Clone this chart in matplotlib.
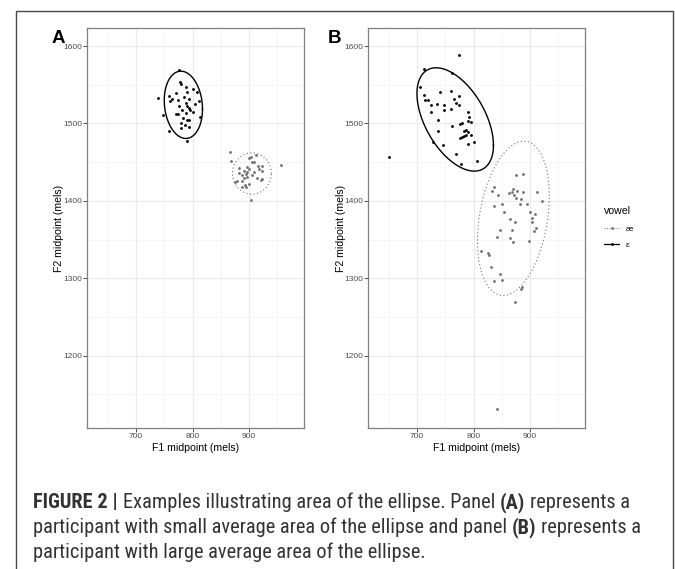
import numpy as np
import matplotlib
matplotlib.use("Agg")
import matplotlib.pyplot as plt
from matplotlib.lines import Line2D
from matplotlib.patches import Rectangle
from matplotlib import font_manager

# ---------------- data ----------------
# Panel A
a_eps_x = [776.5, 777.6, 779, 788, 800, 807.6, 770.6, 791, 738.8, 757.6, 763.5, 761,
           785, 794, 811.8, 773.5, 788, 804, 791, 776.5, 782, 796, 794, 770.6, 775,
           748, 813, 788, 783.5, 791, 793, 779, 785.9, 794, 779, 757.6, 790, 800]
a_eps_y = [1569, 1553.9, 1551, 1547, 1544, 1540.5, 1539.7, 1541, 1533, 1535, 1532, 1528.4,
           1533.6, 1532, 1529, 1530, 1527, 1525, 1523, 1522, 1518, 1518, 1520, 1511.6, 1512,
           1511, 1508.6, 1514, 1506.5, 1504, 1505, 1501, 1497.4, 1495.7, 1493.5, 1490.5, 1476.7, 1515]
a_ae_x = [866.5, 868.8, 900, 903, 913, 904.7, 908.8, 882.4, 897, 915, 922, 899, 897, 891,
          894, 881.8, 909.4, 917.6, 923.5, 905.9, 888, 897, 891.8, 914, 923.5, 920.6, 879.4,
          888, 900, 893, 887, 895.3, 957, 903, 875]
a_ae_y = [1462.5, 1451.7, 1456, 1457, 1459.5, 1450.4, 1450.4, 1442.7, 1443.5, 1445.3, 1444.8,
          1440.5, 1437.5, 1438.8, 1435.3, 1436.2, 1437.5, 1440.5, 1438.4, 1433, 1433, 1431, 1430,
          1429, 1428, 1426.7, 1425.9, 1425.9, 1421.6, 1420, 1418, 1418, 1446.6, 1401.7, 1424.7]

# Panel B
b_eps_x = [650.6, 704.7, 712.9, 773.5, 761.8, 711.8, 714.7, 718.8, 725.3, 725.3, 741, 760,
           735.9, 747.6, 748.2, 760, 764.7, 768.2, 773.5, 774.7, 791, 792, 737, 736.5, 761.8,
           776.5, 779, 789.4, 795, 786.5, 789.4, 784, 775.9, 779.4, 784, 785.9, 795, 789.4,
           801, 727.6, 745.3, 769.4, 777.6, 805.9]
b_eps_y = [1456.5, 1547.4, 1571, 1588.4, 1564.7, 1536.6, 1530, 1530, 1523.3, 1515, 1541, 1542,
           1525, 1524, 1518, 1519, 1531.5, 1526.7, 1535, 1524, 1514.7, 1507.8, 1504, 1490, 1496.6,
           1499, 1501, 1503, 1501.7, 1491.4, 1488.4, 1489.7, 1481, 1482, 1483.6, 1485, 1485.3, 1474,
           1476.3, 1475.4, 1472.8, 1460, 1447.4, 1452]
b_ae_x = [874.7, 887, 836.5, 832.4, 870.6, 868.2, 877.6, 888.2, 863.5, 871.8, 844, 913, 874.7,
          884, 920.6, 851, 882.4, 895.3, 837, 853, 900.6, 909.4, 865.3, 903.5, 873, 903, 911.2,
          906, 847, 868.2, 841, 864.7, 869.4, 898.2, 813, 825.3, 827, 831.3, 845.9, 835.9, 851,
          885.3, 883.5, 872.4, 842]
b_ae_y = [1432.8, 1435, 1417.7, 1412.5, 1415.5, 1412, 1413, 1412, 1410, 1407.8, 1407.3, 1410.8,
          1404.3, 1402, 1400, 1395.7, 1395.7, 1395.7, 1392.7, 1385, 1385.3, 1383.2, 1376.3, 1377.6,
          1372.4, 1372, 1364.7, 1361.6, 1362, 1362, 1353, 1352.2, 1346.6, 1348.7, 1335.8, 1333.2,
          1330, 1314.2, 1305.2, 1296.6, 1298.3, 1288, 1286, 1269, 1131]

# ellipses: centre x, centre y, half x-extent, half y-extent, cos(phase) = (x at top - cx)/rx
ell_a_eps = [783.8, 1524.1, 33.8, 43.5, -0.13]
ell_a_ae = [905.0, 1435.3, 34.4, 26.7, 0.0]
ell_b_eps = [767.6, 1505.2, 67.6, 66.8, -0.50]
ell_b_ae = [870.5, 1377.3, 63.5, 99.7, 0.29]

x_ticks = [700, 800, 900]
y_ticks = [1200, 1300, 1400, 1500, 1600]
vowel_labels = ["æ", "ɛ"]
panel_labels = ["A", "B"]
x_title = "F1 midpoint (mels)"
y_title = "F2 midpoint (mels)"
caption_lines = [
    [("FIGURE 2 |", "bold"), ("Examples illustrating area of the ellipse. Panel", "normal"),
     ("(A)", "bold"), ("represents a", "normal")],
    [("participant with small average area of the ellipse and panel", "normal"),
     ("(B)", "bold"), ("represents a", "normal")],
    [("participant with large average area of the ellipse.", "normal")],
]

# ---------------- style ----------------
W, H = 675, 569
DPI = 100

installed = {f.name for f in font_manager.fontManager.ttflist}
base_font = [f for f in ["Liberation Sans", "DejaVu Sans"] if f in installed] or ["DejaVu Sans"]
if "DejaVu Sans" not in base_font:
    base_font.append("DejaVu Sans")
narrow_candidates = ["Liberation Sans Narrow", "Arial Narrow", "Roboto Condensed", "Open Sans Condensed"]
narrow = [f for f in narrow_candidates if f in installed]
cap_font = narrow[:1] + base_font
plt.rcParams["font.family"] = base_font

AE_COL = "#737373"
EPS_COL = "#000000"
TICK_COL = "#4D4D4D"

fig = plt.figure(figsize=(W / DPI, H / DPI), dpi=DPI)


def px_rect(l, t, r, b):
    return [l / W, 1 - b / H, (r - l) / W, (b - t) / H]


axA = fig.add_axes(px_rect(87.3, 28.3, 304.0, 428.3))
axB = fig.add_axes(px_rect(368.3, 28.3, 585.0, 428.3))


def ellipse_xy(p):
    cx, cy, rx, ry, c = p
    phi = np.arccos(c)
    t = np.linspace(0, 2 * np.pi, 300)
    return cx + rx * np.cos(t), cy + ry * np.cos(t - phi)


def style_axes(ax):
    ax.set_xlim(614, 997)
    ax.set_ylim(1106, 1623)
    ax.set_xticks(x_ticks)
    ax.set_yticks(y_ticks)
    ax.set_xticks([650, 750, 850, 950], minor=True)
    ax.set_yticks([1150, 1250, 1350, 1450, 1550], minor=True)
    ax.grid(True, which="major", color="#EBEBEB", lw=0.9, zorder=0)
    ax.grid(True, which="minor", color="#F4F4F4", lw=0.6, zorder=0)
    ax.set_axisbelow(True)
    ax.tick_params(which="major", length=2.6, width=0.6, color="#333333", pad=0.9,
                   labelsize=6.0, labelcolor=TICK_COL)
    ax.tick_params(which="minor", length=0)
    for s in ax.spines.values():
        s.set_color("#7F7F7F")
        s.set_linewidth(0.9)
    ax.set_xlabel(x_title, fontsize=7.6, color="#000000")
    ax.set_ylabel(y_title, fontsize=7.6, color="#000000")
    ax.xaxis.set_label_coords(0.5, -(443.0 - 428.3) / 400)
    ax.yaxis.set_label_coords(-(87.3 - 64.5) / 216.7, 0.5)


def draw_panel(ax, ex, ey, ax_, ay_, e_eps, e_ae):
    ax.scatter(ax_, ay_, s=4.2, color=AE_COL, linewidths=0, zorder=3)
    ax.scatter(ex, ey, s=4.2, color=EPS_COL, linewidths=0, zorder=3)
    x, y = ellipse_xy(e_ae)
    ax.plot(x, y, color=AE_COL, lw=0.8, ls=(0, (1, 2.2)), zorder=2)
    x, y = ellipse_xy(e_eps)
    ax.plot(x, y, color=EPS_COL, lw=1.0, ls="-", zorder=2)
    style_axes(ax)


draw_panel(axA, a_eps_x, a_eps_y, a_ae_x, a_ae_y, ell_a_eps, ell_a_ae)
draw_panel(axB, b_eps_x, b_eps_y, b_ae_x, b_ae_y, ell_b_eps, ell_b_ae)

# panel letters
fig.text(51.5 / W, 1 - 42.7 / H, panel_labels[0], fontsize=13.5, fontweight="bold", va="baseline", ha="left")
fig.text(328.0 / W, 1 - 43.0 / H, panel_labels[1], fontsize=13.5, fontweight="bold", va="baseline", ha="left")

# legend
handles = [Line2D([], [], color=AE_COL, ls=(0, (1, 1.5)), lw=0.7, marker="o", ms=2.0, mew=0),
           Line2D([], [], color=EPS_COL, ls="-", lw=0.9, marker="o", ms=2.0, mew=0)]
leg = fig.legend(handles, vowel_labels, title="vowel", loc="upper left",
                 bbox_to_anchor=(604 / W, 1 - 205.5 / H), frameon=False, fontsize=6,
                 title_fontsize=7.6, handlelength=1.8, handletextpad=0.8, labelspacing=0.95,
                 borderpad=0, borderaxespad=0, alignment="left")
leg._legend_box.sep = 7

# outer border
fig.patches.append(Rectangle((16 / W, -0.1), (673.3 - 16) / W, (1 - 10.7 / H) + 0.1,
                             transform=fig.transFigure, fill=False, edgecolor="#4A4A4A",
                             lw=1.0, figure=fig))

# caption with mixed weights, sized so the first line spans the reference width
renderer = fig.canvas.get_renderer()
CAP_COL = "#333333"
LINE1_WIDTH = 596.0


def text_width(s, weight, size):
    t = fig.text(0, 0, s, fontsize=size, fontweight=weight, family=cap_font)
    w = t.get_window_extent(renderer).width
    t.remove()
    return w


def line_width(line, size):
    sp = text_width("a a", "normal", size) - text_width("aa", "normal", size)
    return sum(text_width(s, w, size) for s, w in line) + sp * (len(line) - 1)


cap_size = 14.3
cap_size *= LINE1_WIDTH / line_width(caption_lines[0], cap_size)
sp_w = text_width("a a", "normal", cap_size) - text_width("aa", "normal", cap_size)

baselines = [508.3, 533.3, 558.3]
for line, base in zip(caption_lines, baselines):
    x = 33.3
    for i, (seg, weight) in enumerate(line):
        if i > 0:
            x += sp_w
        t = fig.text(x / W, 1 - base / H, seg, fontsize=cap_size, fontweight=weight,
                     family=cap_font, color=CAP_COL, va="baseline", ha="left")
        x = t.get_window_extent(renderer).x1

fig.savefig("out.png", dpi=DPI)
